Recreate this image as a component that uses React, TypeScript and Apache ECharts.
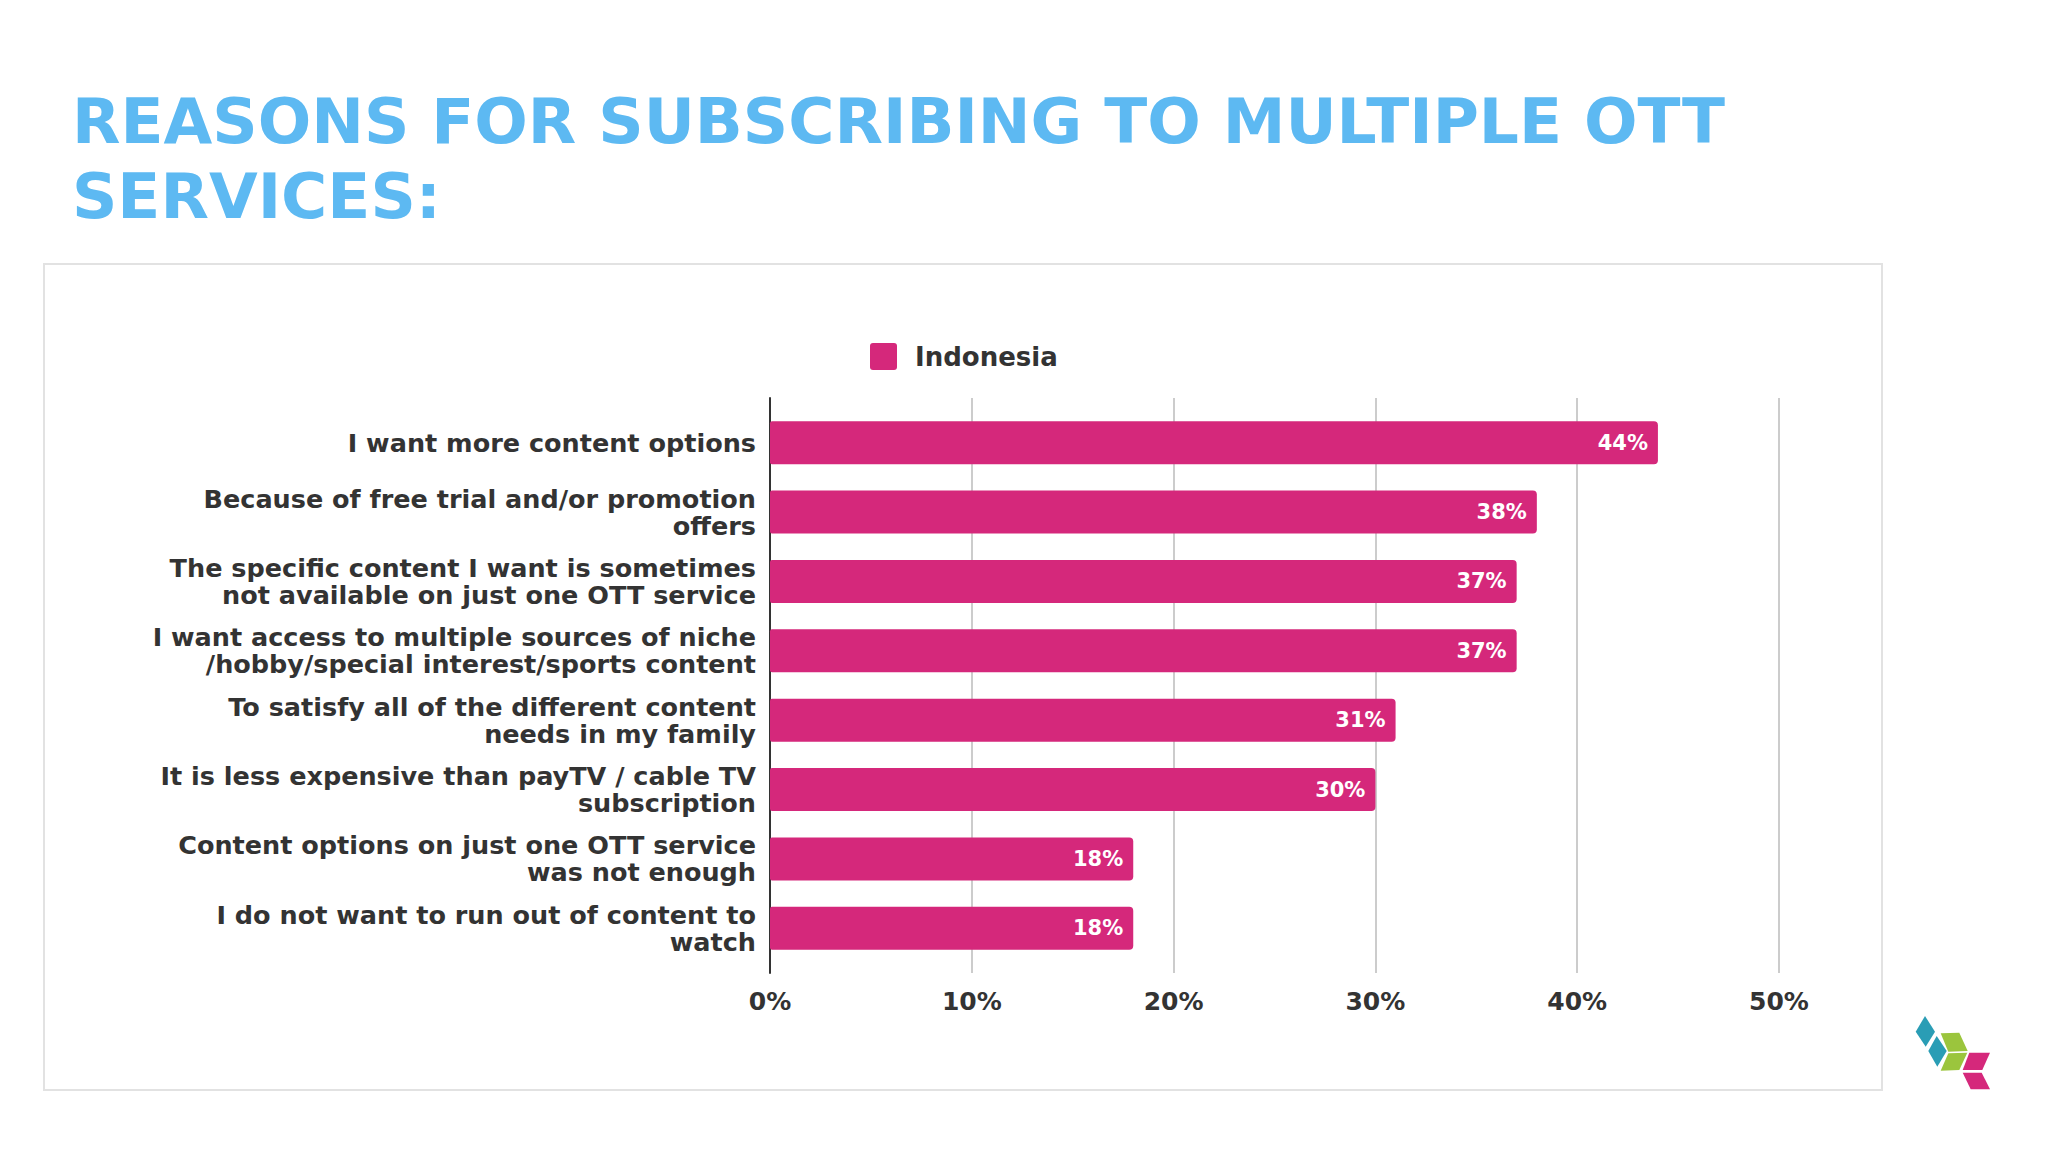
import React, { useEffect, useRef } from "react";
import * as echarts from "echarts";

const titleLines = ["REASONS FOR SUBSCRIBING TO MULTIPLE OTT", "SERVICES:"];
const seriesName = "Indonesia";
const categories = [
  "I want more content options",
  "Because of free trial and/or promotion\noffers",
  "The specific content I want is sometimes\nnot available on just one OTT service",
  "I want access to multiple sources of niche\n/hobby/special interest/sports content",
  "To satisfy all of the different content\nneeds in my family",
  "It is less expensive than payTV / cable TV\nsubscription",
  "Content options on just one OTT service\nwas not enough",
  "I do not want to run out of content to\nwatch",
];
const values = [44, 38, 37, 37, 31, 30, 18, 18];
const xTicks = [0, 10, 20, 30, 40, 50];

const PINK = "#D5287B";
const TEXT = "#333333";
const FONT = "DejaVu Sans";

const logoPieces = [
  { color: "#2A9DB5", pts: [[1915.7, 1031.7], [1925, 1016], [1935, 1031.7], [1925.7, 1046.7]] },
  { color: "#2A9DB5", pts: [[1928.3, 1051], [1936.7, 1036], [1946.7, 1051], [1937.3, 1066.7]] },
  { color: "#9BC53D", pts: [[1940.7, 1033.3], [1959.3, 1032.7], [1967.7, 1051], [1948.3, 1051.7]] },
  { color: "#9BC53D", pts: [[1948.3, 1053.3], [1967.3, 1052.7], [1959.3, 1070], [1940.7, 1070.7]] },
  { color: PINK, pts: [[1969.3, 1052.7], [1990, 1052.7], [1982.3, 1070], [1962.7, 1070]] },
  { color: PINK, pts: [[1962.7, 1072.7], [1981.7, 1072.7], [1990, 1089.3], [1970.7, 1089.3]] },
];

export default function App() {
  const ref = useRef<HTMLDivElement>(null);
  useEffect(() => {
    if (!ref.current) return;
    const chart = echarts.init(ref.current, null, { renderer: "svg" });
    const xMin = xTicks[0];
    const xMax = xTicks[xTicks.length - 1];
    const xInt = xTicks[1] - xTicks[0];
    chart.setOption({
      animation: false,
      backgroundColor: "#ffffff",
      title: {
        text: titleLines.join("\n"),
        left: 72,
        top: 84,
        padding: 0,
        textStyle: {
          fontFamily: FONT,
          fontWeight: "bold",
          fontSize: 63,
          lineHeight: 75,
          color: "#5DB9F2",
        },
      },
      legend: {
        left: 870,
        top: 343,
        padding: 0,
        itemWidth: 27,
        itemHeight: 27,
        icon: "path://M3,0H24A3,3 0 0 1 27,3V24A3,3 0 0 1 24,27H3A3,3 0 0 1 0,24V3A3,3 0 0 1 3,0Z",
        data: [seriesName],
        textStyle: {
          fontFamily: FONT,
          fontWeight: "bold",
          fontSize: 26,
          color: TEXT,
          padding: [0, 0, 0, 13],
        },
      },
      grid: [
        { left: 770, right: 269, top: 408, height: 555, containLabel: false },
        { left: 770, right: 269, top: 398, height: 575, containLabel: false },
      ],
      xAxis: [
        {
          type: "value",
          gridIndex: 0,
          min: xMin,
          max: xMax,
          interval: xInt,
          axisLine: { show: false },
          axisTick: { show: false },
          splitLine: { show: false },
          axisLabel: {
            formatter: "{value}%",
            margin: 26,
            fontFamily: FONT,
            fontWeight: "bold",
            fontSize: 25,
            color: TEXT,
          },
        },
        {
          type: "value",
          gridIndex: 1,
          min: xMin,
          max: xMax,
          interval: xInt,
          axisLine: { show: false },
          axisTick: { show: false },
          axisLabel: { show: false },
          splitLine: { show: true, lineStyle: { color: "#cccccc", width: 2 } },
        },
      ],
      yAxis: [
        {
          type: "category",
          gridIndex: 0,
          inverse: true,
          data: categories,
          axisLine: { show: false },
          axisTick: { show: false },
          axisLabel: {
            margin: 14,
            align: "right",
            fontFamily: FONT,
            fontWeight: "bold",
            fontSize: 25.5,
            lineHeight: 27,
            color: TEXT,
          },
        },
        {
          type: "value",
          gridIndex: 1,
          min: 0,
          max: 1,
          axisLine: { show: true, lineStyle: { color: "#333333", width: 2 } },
          axisTick: { show: false },
          axisLabel: { show: false },
          splitLine: { show: false },
        },
      ],
      series: [
        {
          name: seriesName,
          type: "bar",
          xAxisIndex: 0,
          yAxisIndex: 0,
          data: values,
          barWidth: 43,
          z: 5,
          itemStyle: { color: PINK, borderRadius: [2, 4, 4, 2] },
          label: {
            show: true,
            position: "insideRight",
            distance: 10,
            formatter: "{c}%",
            fontFamily: FONT,
            fontWeight: "bold",
            fontSize: 21,
            color: "#ffffff",
          },
        },
      ],
      graphic: [
        {
          type: "rect",
          shape: { x: 44, y: 264, width: 1838, height: 826 },
          style: { fill: "none", stroke: "#e2e2e2", lineWidth: 2 },
          silent: true,
        },
        ...logoPieces.map((p) => ({
          type: "polygon",
          shape: { points: p.pts },
          style: { fill: p.color },
          silent: true,
        })),
      ],
    });
    return () => chart.dispose();
  }, []);
  return (
    <div
      ref={ref}
      style={{ position: "absolute", left: 0, top: 0, width: 2048, height: 1152 }}
    />
  );
}
